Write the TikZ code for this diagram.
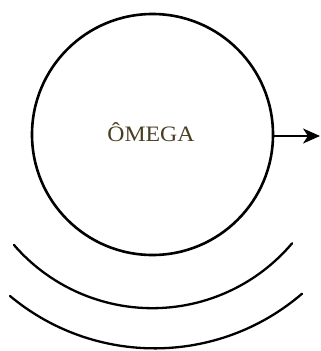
\documentclass[tikz,border=0pt]{standalone}
\usepackage{fontspec}
\setmainfont{Liberation Serif}
\usetikzlibrary{arrows.meta}
\definecolor{textbrown}{RGB}{74,62,34}
\begin{document}
\begin{tikzpicture}[x=1pt,y=-1pt,
  ring/.style={circle,draw=black,line width=2.6pt,minimum size=241pt,inner sep=0pt,outer sep=0pt},
  wave/.style={draw=black,line width=2.3pt,line cap=round},
  pointer/.style={draw=black,line width=2.2pt,-{Stealth[length=17pt,width=15pt,inset=5pt]}},
  title/.style={text=textbrown,font=\fontsize{22}{24}\selectfont,anchor=base,inner sep=0pt}]
\useasboundingbox[fill=white] (0,0) rectangle (321,351);
\node[ring] (omega) at (152.5,134.5) {};
\node[title] (omegatext) at (151,141) {\scalebox{1.08}[1]{ÔMEGA}};
\coordinate (tip) at (320,136);
\draw[pointer] (omega.east |- tip) -- (tip);
\draw[wave] (14,245) arc[start angle=139.1,end angle=40.2,radius=183];
\draw[wave] (10,296) arc[start angle=129.8,end angle=49.3,radius=226];
\end{tikzpicture}
\end{document}
